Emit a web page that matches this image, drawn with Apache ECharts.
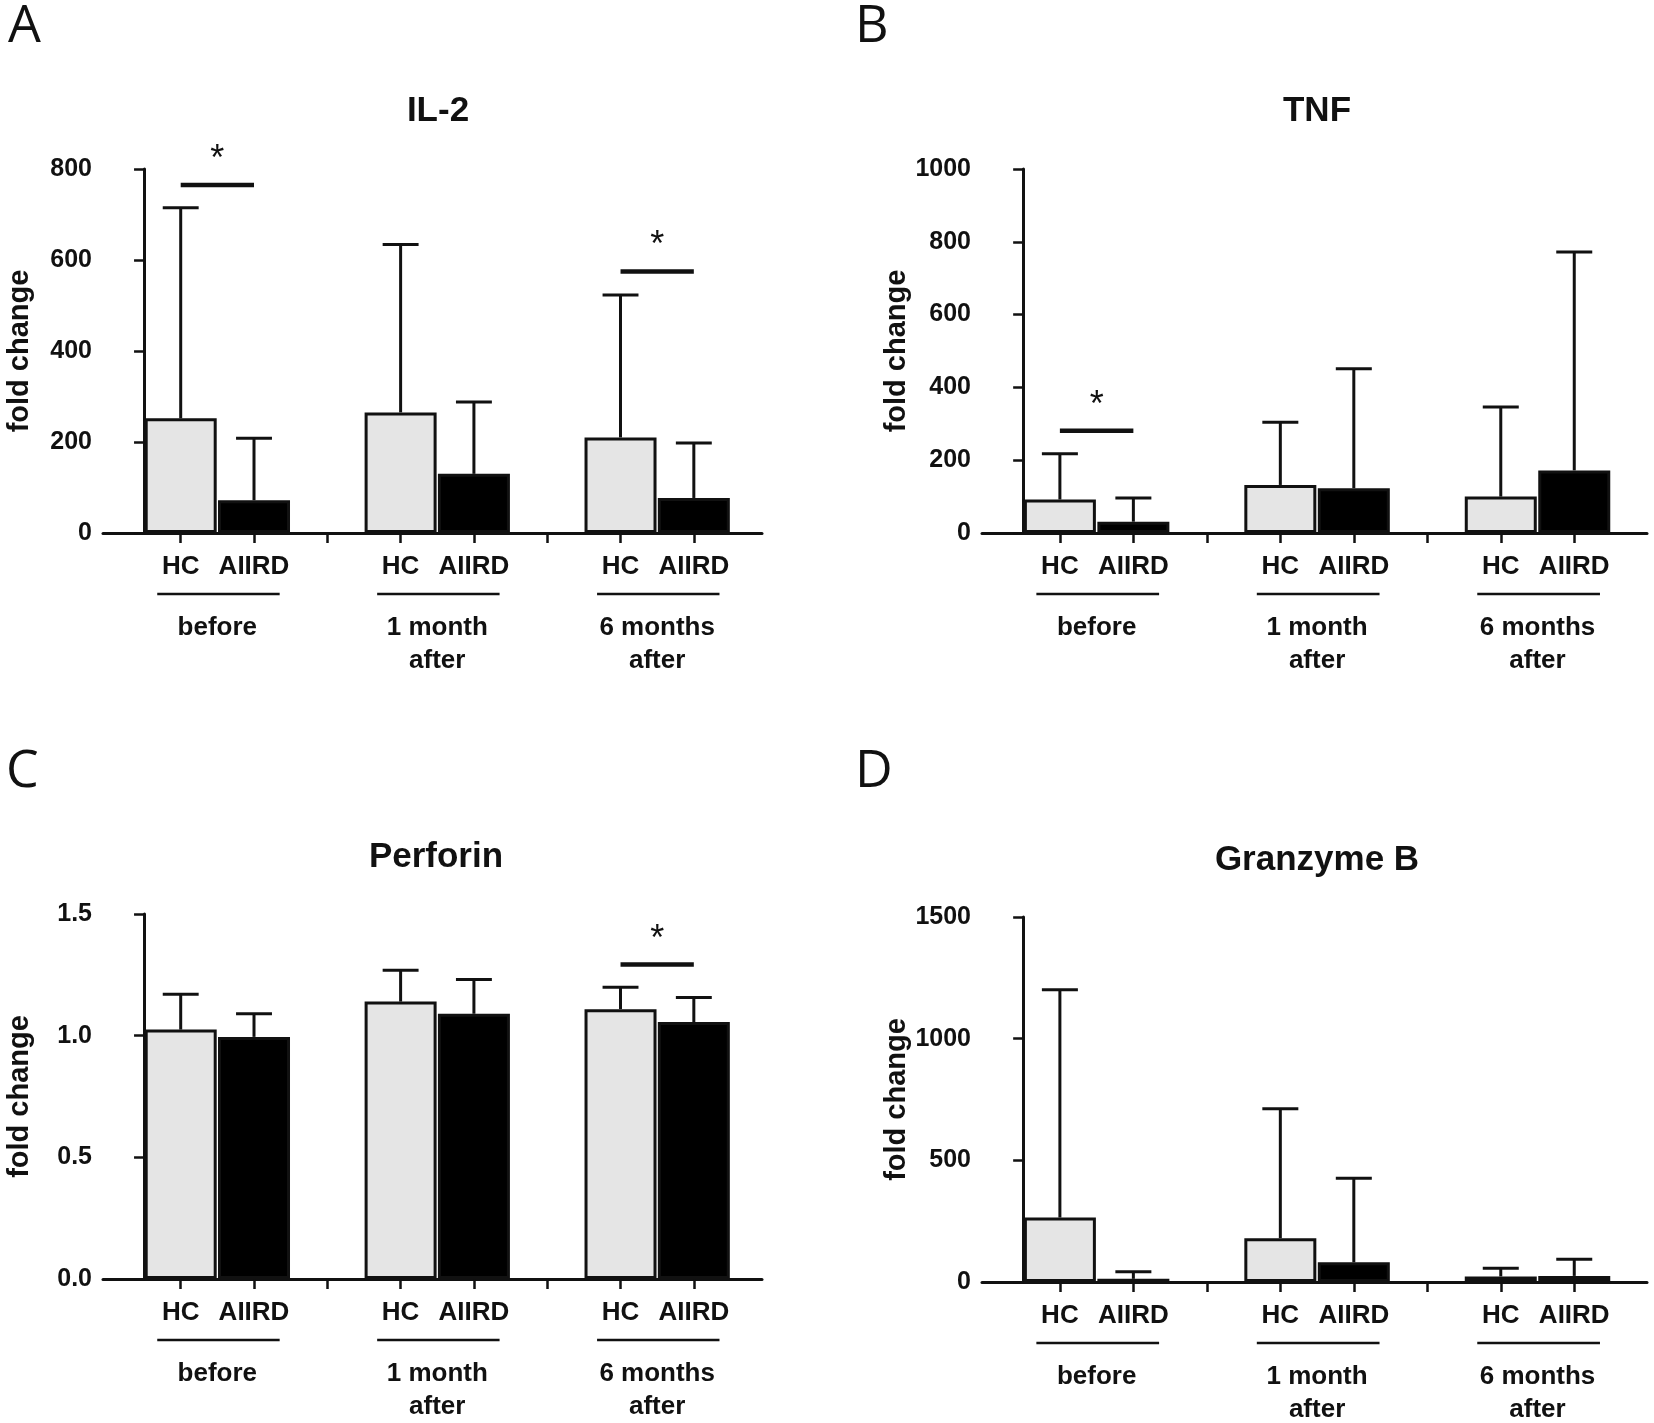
<!DOCTYPE html>
<html>
<head>
<meta charset="utf-8">
<script src="https://cdn.jsdelivr.net/npm/echarts@6/dist/echarts.min.js"></script>
<style>
  html, body { margin: 0; padding: 0; background: #fff; }
  #main { width: 1654px; height: 1423px; }
</style>
</head>
<body>
<div id="main"></div>
<script>
// ---- data ----
var panelLetters = ['A', 'B', 'C', 'D'];
var panelTitles = ['IL-2', 'TNF', 'Perforin', 'Granzyme B'];
var categories = ['HC', 'AIIRD'];
var timePoints = ['before', '1 month\nafter', '6 months\nafter'];

// mean and top of error bar, per time point
var il2HC = [252, 265, 210];
var il2HCTop = [715, 634, 523];
var il2AIIRD = [72, 130, 77];
var il2AIIRDTop = [208, 288, 198];
var il2Sig = [[0, 765], [2, 575]]; // [time point, height of bracket]

var tnfHC = [92, 132, 100];
var tnfHCTop = [218, 304, 346];
var tnfAIIRD = [31, 123, 172];
var tnfAIIRDTop = [96, 451, 772];
var tnfSig = [[0, 281]];

var perfHC = [1.025, 1.14, 1.109];
var perfHCTop = [1.17, 1.269, 1.199];
var perfAIIRD = [0.995, 1.09, 1.056];
var perfAIIRDTop = [1.09, 1.231, 1.157];
var perfSig = [[2, 1.292]];

var gzbHC = [265, 180, 23];
var gzbHCTop = [1201, 712, 57];
var gzbAIIRD = [13, 81, 25];
var gzbAIIRDTop = [42, 426, 93];
var gzbSig = [];

var yMax = [800, 1000, 1.5, 1500];
var yStep = [200, 200, 0.5, 500];

var hcData = [il2HC, tnfHC, perfHC, gzbHC];
var hcTop = [il2HCTop, tnfHCTop, perfHCTop, gzbHCTop];
var aiData = [il2AIIRD, tnfAIIRD, perfAIIRD, gzbAIIRD];
var aiTop = [il2AIIRDTop, tnfAIIRDTop, perfAIIRDTop, gzbAIIRDTop];
var sigData = [il2Sig, tnfSig, perfSig, gzbSig];

// ---- layout (pixels) ----
var layouts = [
  {left: 103, top: 169, width: 659, height: 364, xMax: 8.43, tx: 438, ty: 111, lx: 8, ly: 31},
  {left: 982, top: 169, width: 665, height: 364, xMax: 8.49, tx: 1317, ty: 111, lx: 855, ly: 31},
  {left: 103, top: 914, width: 659, height: 365, xMax: 8.43, tx: 436, ty: 857, lx: 6, ly: 776},
  {left: 982, top: 917, width: 665, height: 365, xMax: 8.49, tx: 1317, ty: 860, lx: 855, ly: 776}
];
var xMin = -0.56;
var FONT = '"Liberation Sans", Arial, sans-serif';
var INK = '#111';

var myChart = echarts.init(document.getElementById('main'));

// slot x: time point g, category c -> g*3 + c + 0.5
function slotX(g, c) { return g * 3 + c + 0.5; }

var barTicks = [];
var barLabelVals = [];
for (var g = 0; g < timePoints.length; g++) {
  barTicks.push(slotX(g, 0), slotX(g, 1));
  barLabelVals.push(slotX(g, 0), slotX(g, 1));
  if (g < timePoints.length - 1) barTicks.push(slotX(g, 2));
}
var groupVals = timePoints.map(function(t, g) { return g * 3 + 1; });

function renderErr(params, api) {
  var x = api.value(0);
  var lo = api.coord([x, api.value(1)]);
  var hi = api.coord([x, api.value(2)]);
  var half = api.size([0.245, 0])[0];
  var st = {stroke: INK, lineWidth: 3};
  return {type: 'group', children: [
    {type: 'line', shape: {x1: lo[0], y1: lo[1], x2: hi[0], y2: hi[1]}, style: st},
    {type: 'line', shape: {x1: hi[0] - half, y1: hi[1], x2: hi[0] + half, y2: hi[1]}, style: st}
  ]};
}

function renderSig(params, api) {
  var a = api.coord([api.value(0), api.value(2)]);
  var b = api.coord([api.value(1), api.value(2)]);
  return {type: 'group', children: [
    {type: 'line', shape: {x1: a[0], y1: a[1], x2: b[0], y2: b[1]},
     style: {stroke: INK, lineWidth: 4.5}},
    {type: 'text', x: (a[0] + b[0]) / 2, y: a[1] - 25,
     style: {text: '*', fill: INK, font: '36px ' + FONT, align: 'center', verticalAlign: 'middle'}}
  ]};
}

function renderLine(params, api) {
  var a = api.coord([api.value(0), 0]);
  var b = api.coord([api.value(1), 0]);
  return {type: 'line', shape: {x1: a[0], y1: a[1] + 61, x2: b[0], y2: b[1] + 61},
          style: {stroke: INK, lineWidth: 2.5}};
}

var grids = [], xAxes = [], yAxes = [], series = [], graphics = [];

layouts.forEach(function(L, p) {
  grids.push({left: L.left, top: L.top, width: L.width, height: L.height, outerBoundsMode: 'none'});
  var slotPx = L.width / (L.xMax - xMin);

  xAxes.push({
    gridIndex: p, type: 'value', min: xMin, max: L.xMax,
    axisLine: {show: true, onZero: true, lineStyle: {color: INK, width: 3}},
    axisTick: {show: true, customValues: barTicks, length: 10, lineStyle: {color: INK, width: 2.5}},
    axisLabel: {
      show: true, customValues: barLabelVals, margin: 21,
      color: INK, fontFamily: FONT, fontWeight: 'bold', fontSize: 26, lineHeight: 26,
      formatter: function(v) { return categories[Math.round(v - 0.5) % 3]; }
    },
    splitLine: {show: false}
  });
  xAxes.push({
    gridIndex: p, type: 'value', min: xMin, max: L.xMax, position: 'bottom', offset: 0,
    axisLine: {show: false}, axisTick: {show: false}, splitLine: {show: false},
    axisLabel: {
      show: true, customValues: groupVals, margin: 78,
      color: INK, fontFamily: FONT, fontWeight: 'bold', fontSize: 26, lineHeight: 33,
      formatter: function(v) { return timePoints[Math.round((v - 1) / 3)]; }
    }
  });
  yAxes.push({
    gridIndex: p, type: 'value', min: 0, max: yMax[p], interval: yStep[p],
    name: 'fold change', nameLocation: 'middle', nameGap: 69,
    nameTextStyle: {color: INK, fontFamily: FONT, fontWeight: 'bold', fontSize: 29},
    axisLine: {show: true, lineStyle: {color: INK, width: 3}},
    axisTick: {show: true, length: 10, lineStyle: {color: INK, width: 2.5}},
    axisLabel: {
      color: INK, fontFamily: FONT, fontWeight: 'bold', fontSize: 25, margin: 11,
      formatter: p === 2 ? function(v) { return v.toFixed(1); } : function(v) { return String(v); }
    },
    splitLine: {show: false}
  });

  var bw = Math.round(slotPx) - 1;
  series.push({
    name: 'HC', type: 'bar', xAxisIndex: 2 * p, yAxisIndex: p,
    barWidth: bw, barGap: '-100%',
    data: hcData[p].map(function(v, g) { return [slotX(g, 0), v]; }),
    itemStyle: {color: '#e5e5e5', borderColor: INK, borderWidth: 3}
  });
  series.push({
    name: 'AIIRD', type: 'bar', xAxisIndex: 2 * p, yAxisIndex: p,
    barWidth: bw, barGap: '-100%',
    data: aiData[p].map(function(v, g) { return [slotX(g, 1), v]; }),
    itemStyle: {color: '#000', borderColor: INK, borderWidth: 3}
  });

  var errs = [];
  for (var g = 0; g < timePoints.length; g++) {
    errs.push([slotX(g, 0), hcData[p][g], hcTop[p][g]]);
    errs.push([slotX(g, 1), aiData[p][g], aiTop[p][g]]);
  }
  series.push({
    type: 'custom', xAxisIndex: 2 * p, yAxisIndex: p, z: 3, clip: false,
    renderItem: renderErr, data: errs
  });

  if (sigData[p].length) {
    series.push({
      type: 'custom', xAxisIndex: 2 * p, yAxisIndex: p, z: 3, clip: false,
      renderItem: renderSig,
      data: sigData[p].map(function(s) { return [slotX(s[0], 0), slotX(s[0], 1), s[1]]; })
    });
  }

  series.push({
    type: 'custom', xAxisIndex: 2 * p, yAxisIndex: p, z: 3, clip: false,
    renderItem: renderLine,
    data: groupVals.map(function(c) { return [c - 0.82, c + 0.85]; })
  });

  graphics.push({
    type: 'text', left: L.lx, top: L.ly - 30,
    style: {text: panelLetters[p], fill: INK, font: '52px "Open Sans", "Noto Sans", sans-serif'}
  });
  graphics.push({
    type: 'text', x: L.tx, y: L.ty,
    style: {text: panelTitles[p], fill: INK, font: 'bold 35px ' + FONT, align: 'center', verticalAlign: 'middle'}
  });
});

var option = {
  animation: false,
  backgroundColor: '#fff',
  grid: grids,
  xAxis: xAxes,
  yAxis: yAxes,
  series: series,
  graphic: graphics
};
myChart.setOption(option);
window.addEventListener('resize', function() { myChart.resize(); });
</script>
</body>
</html>
